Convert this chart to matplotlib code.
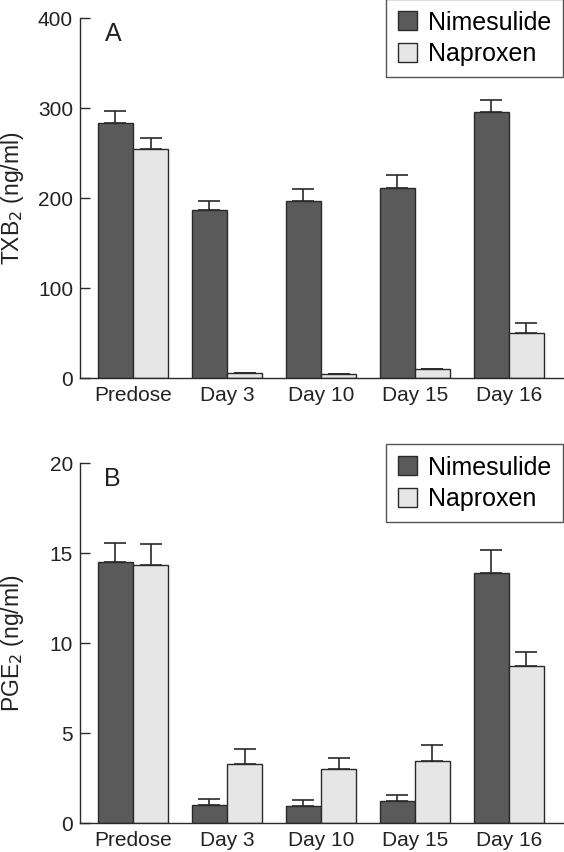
import numpy as np
import matplotlib
matplotlib.use("Agg")
import matplotlib.pyplot as plt

plt.rcParams['font.family'] = ['Liberation Sans', 'DejaVu Sans']

groups = ["Predose", "Day 3", "Day 10", "Day 15", "Day 16"]
series = ["Nimesulide", "Naproxen"]

# panel A: TXB2 (ng/ml)
txb_nim = [283, 187, 197, 211, 296]
txb_nim_err = [14, 10, 13, 15, 13]
txb_nap = [254, 6, 5, 10, 50]
txb_nap_err = [13, 0, 0, 0, 11]

# panel B: PGE2 (ng/ml)
pge_nim = [14.5, 1.0, 0.95, 1.25, 13.9]
pge_nim_err = [1.05, 0.32, 0.32, 0.3, 1.27]
pge_nap = [14.35, 3.3, 2.98, 3.45, 8.7]
pge_nap_err = [1.15, 0.82, 0.63, 0.9, 0.78]

dark = "#5a5a5a"
light = "#e6e6e6"
edge = "#2a2a2a"

fig = plt.figure(figsize=(5.64, 8.52), dpi=100)
ax1 = fig.add_axes([0.1418, 0.5563, 0.856, 0.4225])
ax2 = fig.add_axes([0.1418, 0.034, 0.856, 0.4225])

x = np.arange(len(groups))
w = 0.375


def panel(ax, nim, nim_err, nap, nap_err, ymax, step, ylabel, letter):
    ek = dict(ecolor=edge, elinewidth=1.2, capthick=1.2)
    ax.bar(x - w / 2, nim, w, color=dark, edgecolor=edge, linewidth=1.0,
           yerr=[np.zeros(len(nim)), nim_err], capsize=8, error_kw=ek,
           label=series[0], zorder=2)
    ax.bar(x + w / 2, nap, w, color=light, edgecolor=edge, linewidth=1.0,
           yerr=[np.zeros(len(nap)), nap_err], capsize=8, error_kw=ek,
           label=series[1], zorder=2)
    ax.set_xlim(-0.564, 4.574)
    ax.set_ylim(0, ymax)
    ax.set_yticks(np.arange(0, ymax + step / 2, step))
    ax.set_xticks(x)
    ax.set_xticklabels(groups)
    ax.spines['top'].set_visible(False)
    ax.spines['right'].set_visible(False)
    for s in ['left', 'bottom']:
        ax.spines[s].set_linewidth(1.0)
        ax.spines[s].set_color(edge)
    ax.tick_params(axis='y', direction='in', length=7, width=1.0,
                   labelsize=15, colors=edge, labelcolor='#222222', pad=5)
    ax.tick_params(axis='x', length=0, labelsize=15, labelcolor='#222222', pad=6)
    ax.set_ylabel(ylabel, fontsize=16.5, color='#222222')
    ax.yaxis.set_label_coords(-0.112, 0.5)
    ax.text(0.068, 0.99, letter, transform=ax.transAxes, fontsize=18,
            va='top', ha='center', color='#222222')


panel(ax1, txb_nim, txb_nim_err, txb_nap, txb_nap_err, 400, 100,
      "TXB$_2$ (ng/ml)", "A")
panel(ax2, pge_nim, pge_nim_err, pge_nap, pge_nap_err, 20, 5,
      "PGE$_2$ (ng/ml)", "B")

for ax in (ax1, ax2):
    leg = ax.legend(loc='upper right', bbox_to_anchor=(1.0, 1.052),
                    bbox_transform=ax.transAxes, fontsize=18, frameon=True,
                    fancybox=False, edgecolor=edge, handlelength=0.78,
                    handleheight=0.78, handletextpad=0.45, borderpad=0.45,
                    labelspacing=0.3, borderaxespad=0)
    leg.get_frame().set_linewidth(1.0)

fig.savefig("out.png", dpi=100)
